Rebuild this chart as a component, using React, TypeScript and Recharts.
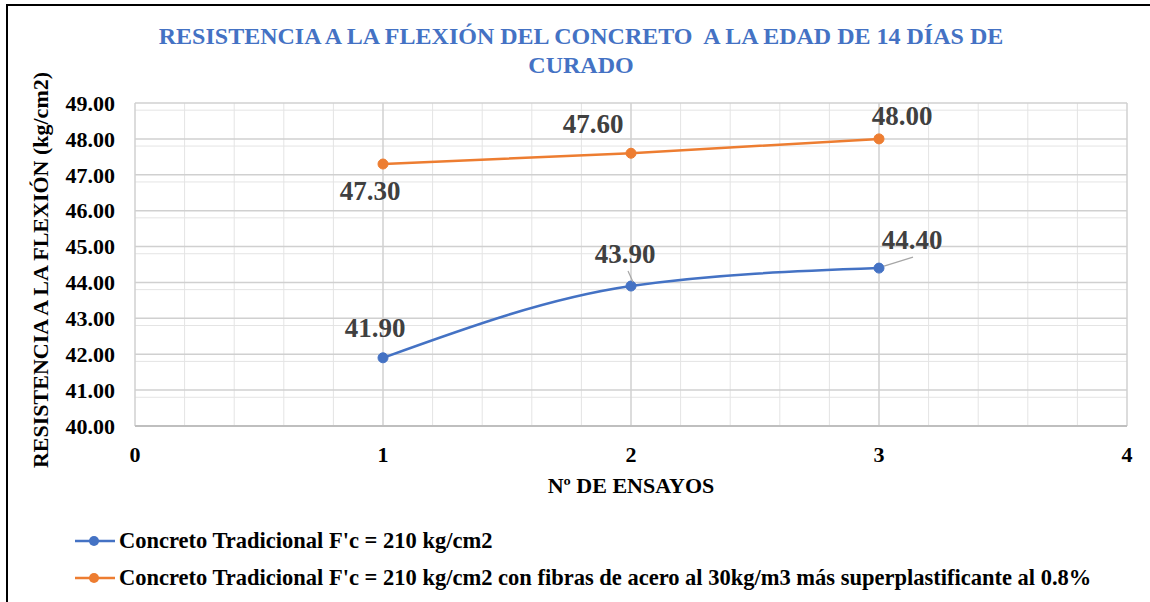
import { LineChart, Line, XAxis, YAxis, CartesianGrid, LabelList } from 'recharts'

const ENSAYOS = [1, 2, 3]
const TRADICIONAL = [41.9, 43.9, 44.4]
const CON_FIBRAS = [47.3, 47.6, 48.0]

const X_TICKS = [0, 1, 2, 3, 4]
const Y_TICKS = [40, 41, 42, 43, 44, 45, 46, 47, 48, 49]
const X_MINOR = [0.2, 0.4, 0.6, 0.8, 1.2, 1.4, 1.6, 1.8, 2.2, 2.4, 2.6, 2.8, 3.2, 3.4, 3.6, 3.8]
const Y_MINOR = [
  40.2, 40.4, 40.6, 40.8, 41.2, 41.4, 41.6, 41.8, 42.2, 42.4, 42.6, 42.8,
  43.2, 43.4, 43.6, 43.8, 44.2, 44.4, 44.6, 44.8, 45.2, 45.4, 45.6, 45.8,
  46.2, 46.4, 46.6, 46.8, 47.2, 47.4, 47.6, 47.8, 48.2, 48.4, 48.6, 48.8,
]

const SERIES_TRADICIONAL = "Concreto Tradicional F'c = 210 kg/cm2"
const SERIES_FIBRAS = "Concreto Tradicional F'c = 210 kg/cm2 con fibras de acero al 30kg/m3 más superplastificante al 0.8%"

const BLUE = '#4472C4'
const ORANGE = '#ED7D31'
const FONT = '"Liberation Serif", "DejaVu Serif", serif'

const data = ENSAYOS.map((n, i) => ({
  ensayo: n,
  tradicional: TRADICIONAL[i],
  fibras: CON_FIBRAS[i],
}))

// label placement, tweaked by eye like Excel's manual label moves
const blueLabels = [
  { dx: -8, dy: -21 },
  { dx: -6, dy: -23, leader: [-3, -15, 2, -4] },
  { dx: 33, dy: -19, leader: [5, -2, 34, -11] },
]
const orangeLabels = [
  { dx: -13, dy: 36 },
  { dx: -38, dy: -20 },
  { dx: 23, dy: -14 },
]

const makeLabel = (offsets: any[]) => (props: any) => {
  const { x, y, value, index } = props
  const o = offsets[index]
  return (
    <g>
      {o.leader && (
        <line
          x1={x + o.leader[0]}
          y1={y + o.leader[1]}
          x2={x + o.leader[2]}
          y2={y + o.leader[3]}
          stroke="#a6a6a6"
          strokeWidth={1.2}
        />
      )}
      <text
        x={x + o.dx}
        y={y + o.dy}
        textAnchor="middle"
        fontFamily={FONT}
        fontWeight="bold"
        fontSize={27}
        fill="#404040"
      >
        {Number(value).toFixed(2)}
      </text>
    </g>
  )
}

function LegendRow({ color, text }: { color: string; text: string }) {
  return (
    <div style={{ display: 'flex', alignItems: 'center', height: 37 }}>
      <svg width={44} height={14} style={{ marginRight: 2 }}>
        <line x1={2} y1={7} x2={42} y2={7} stroke={color} strokeWidth={2.5} />
        <circle cx={21} cy={7} r={5} fill={color} />
      </svg>
      <span>{text}</span>
    </div>
  )
}

export default function App() {
  return (
    <div
      style={{
        position: 'absolute',
        left: 0,
        top: 0,
        width: 1150,
        height: 602,
        background: '#fff',
        overflow: 'hidden',
        fontFamily: FONT,
      }}
    >
      <div
        style={{
          position: 'absolute',
          left: 6,
          top: 4,
          right: 0,
          bottom: 0,
          borderTop: '2px solid #000',
          borderLeft: '2px solid #000',
        }}
      />
      <div
        style={{
          position: 'absolute',
          left: 80,
          width: 1002,
          top: 22,
          textAlign: 'center',
          color: BLUE,
          fontWeight: 'bold',
          fontSize: 24,
          lineHeight: '29px',
        }}
      >
        RESISTENCIA A LA FLEXIÓN DEL CONCRETO&nbsp; A LA EDAD DE 14 DÍAS DE
        <br />
        CURADO
      </div>
      <div
        style={{
          position: 'absolute',
          left: 41,
          top: 270,
          transform: 'translate(-50%, -50%) rotate(-90deg)',
          whiteSpace: 'nowrap',
          fontWeight: 'bold',
          fontSize: 22,
        }}
      >
        RESISTENCIA A LA FLEXIÓN (kg/cm2)
      </div>
      <div
        style={{
          position: 'absolute',
          left: 631,
          top: 486,
          transform: 'translate(-50%, -50%)',
          whiteSpace: 'nowrap',
          fontWeight: 'bold',
          fontSize: 22,
        }}
      >
        Nº DE ENSAYOS
      </div>

      <div style={{ position: 'absolute', left: 0, top: 0 }}>
        <LineChart
          width={1150}
          height={602}
          data={data}
          margin={{ top: 103, right: 23, bottom: 146, left: 55 }}
        >
          <CartesianGrid
            stroke="#e4e4e4"
            strokeWidth={1}
            horizontalValues={Y_MINOR}
            verticalValues={X_MINOR}
          />
          <CartesianGrid
            stroke="#d0d0d0"
            strokeWidth={1.5}
            horizontalValues={Y_TICKS}
            verticalValues={X_TICKS}
          />
          <XAxis
            dataKey="ensayo"
            type="number"
            domain={[0, 4]}
            ticks={X_TICKS}
            height={30}
            axisLine={{ stroke: '#bfbfbf', strokeWidth: 2 }}
            tickLine={false}
            tickMargin={14}
            tick={{ fontFamily: FONT, fontWeight: 'bold', fontSize: 22, fill: '#000' }}
          />
          <YAxis
            type="number"
            domain={[40, 49]}
            ticks={Y_TICKS}
            width={80}
            axisLine={false}
            tickLine={false}
            tickMargin={14}
            tickFormatter={(v: number) => v.toFixed(2)}
            tick={{ fontFamily: FONT, fontWeight: 'bold', fontSize: 22, fill: '#000' }}
          />
          <Line
            type="monotone"
            dataKey="tradicional"
            name={SERIES_TRADICIONAL}
            stroke={BLUE}
            strokeWidth={2.5}
            dot={{ r: 5, fill: BLUE, stroke: BLUE, strokeWidth: 1 }}
            isAnimationActive={false}
          >
            <LabelList dataKey="tradicional" content={makeLabel(blueLabels)} />
          </Line>
          <Line
            type="monotone"
            dataKey="fibras"
            name={SERIES_FIBRAS}
            stroke={ORANGE}
            strokeWidth={2.5}
            dot={{ r: 5, fill: ORANGE, stroke: ORANGE, strokeWidth: 1 }}
            isAnimationActive={false}
          >
            <LabelList dataKey="fibras" content={makeLabel(orangeLabels)} />
          </Line>
        </LineChart>
      </div>

      <div
        style={{
          position: 'absolute',
          left: 73,
          top: 522,
          fontWeight: 'bold',
          fontSize: 22.5,
          color: '#000',
        }}
      >
        <LegendRow color={BLUE} text={SERIES_TRADICIONAL} />
        <LegendRow color={ORANGE} text={SERIES_FIBRAS} />
      </div>
    </div>
  )
}
